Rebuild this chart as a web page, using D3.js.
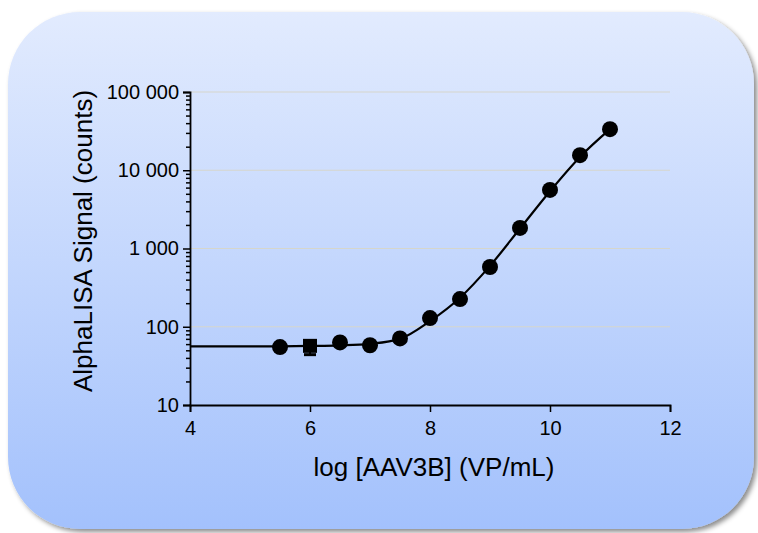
<!DOCTYPE html>
<html>
<head>
<meta charset="utf-8">
<script src="https://cdn.jsdelivr.net/npm/d3@7"></script>
<style>
  body { margin: 0; background: #fff; }
  svg { display: block; font-family: "Liberation Sans", Arial, sans-serif; }
</style>
</head>
<body>
<script>
const doseLog = [5.5, 6.5, 7, 7.5, 8, 8.5, 9, 9.5, 10, 10.5, 11];
const signal = [55, 63, 58, 71, 129, 226, 580, 1830, 5600, 15600, 33500];

// the square point with its error bar
const sqX = [6];
const sqY = [57];
const sqErr = [13];

// fitted curve
const fitX = [4, 5, 5.5, 6, 6.5, 7, 7.5, 8, 8.5, 9, 9.5, 10, 10.5, 11];
const fitY = [56, 56, 56.2, 56.8, 57.8, 60.5, 70, 118, 235, 600, 1800, 5400, 14800, 33500];

const xTicks = [4, 6, 8, 10, 12];
const yTicks = [10, 100, 1000, 10000, 100000];
const yTickLabels = ["10", "100", "1 000", "10 000", "100 000"];

const W = 758, H = 533;
const svg = d3.select("body").append("svg").attr("width", W).attr("height", H);

const defs = svg.append("defs");
const grad = defs.append("linearGradient").attr("id", "bg").attr("x1", 0).attr("y1", 0).attr("x2", 0).attr("y2", 1);
grad.append("stop").attr("offset", "0%").attr("stop-color", "#e2ebfe");
grad.append("stop").attr("offset", "100%").attr("stop-color", "#a3c1fc");

const shadow = defs.append("filter").attr("id", "shadow").attr("x", "-5%").attr("y", "-5%").attr("width", "115%").attr("height", "115%");
shadow.append("feDropShadow").attr("dx", 3).attr("dy", 3).attr("stdDeviation", 2.5)
  .attr("flood-color", "#000").attr("flood-opacity", 0.45);

// background panel
svg.append("rect")
  .attr("x", 8).attr("y", 12).attr("width", 746).attr("height", 517)
  .attr("rx", 72).attr("ry", 72)
  .attr("fill", "url(#bg)")
  .attr("filter", "url(#shadow)");

const x = d3.scaleLinear().domain([4, 12]).range([190, 670]);
const y = d3.scaleLog().domain([10, 100000]).range([405, 92]);

// gridlines
svg.append("g").selectAll("line")
  .data(yTicks.slice(1))
  .join("line")
  .attr("x1", x(4)).attr("x2", x(12))
  .attr("y1", d => y(d)).attr("y2", d => y(d))
  .attr("stroke", "#d6d6cc").attr("stroke-width", 1.2);

// y axis
const minorTicks = [];
for (let p = 1; p < 5; p++) for (let m = 2; m < 10; m++) minorTicks.push(m * Math.pow(10, p));

svg.append("g").attr("transform", `translate(${x(4)},0)`)
  .call(d3.axisLeft(y).tickValues(yTicks).tickSize(7).tickFormat((d, i) => yTickLabels[i]).tickPadding(4));
svg.append("g").attr("transform", `translate(${x(4)},0)`)
  .call(d3.axisLeft(y).tickValues(minorTicks).tickSize(4).tickFormat(""))
  .select(".domain").remove();

// x axis
svg.append("g").attr("transform", `translate(0,${y(10)})`)
  .call(d3.axisBottom(x).tickValues(xTicks).tickSize(7).tickPadding(9));

svg.selectAll(".domain").attr("stroke", "#000").attr("stroke-width", 1.8);
svg.selectAll(".tick line").attr("stroke", "#000").attr("stroke-width", 1.5);
svg.selectAll(".tick text").attr("fill", "#000").style("font-size", "20px");

// fit curve
const line = d3.line()
  .x((d, i) => x(fitX[i]))
  .y(d => y(d))
  .curve(d3.curveMonotoneX);
svg.append("path")
  .datum(fitY)
  .attr("d", line)
  .attr("fill", "none")
  .attr("stroke", "#000")
  .attr("stroke-width", 2.2);

// error bar for the square point
svg.append("g").selectAll("line")
  .data(sqX)
  .join("line")
  .attr("x1", d => x(d)).attr("x2", d => x(d))
  .attr("y1", (d, i) => y(sqY[i])).attr("y2", (d, i) => y(sqY[i] - sqErr[i]))
  .attr("stroke", "#000").attr("stroke-width", 2);
svg.append("g").selectAll("line")
  .data(sqX)
  .join("line")
  .attr("x1", d => x(d) - 6).attr("x2", d => x(d) + 6)
  .attr("y1", (d, i) => y(sqY[i] - sqErr[i])).attr("y2", (d, i) => y(sqY[i] - sqErr[i]))
  .attr("stroke", "#000").attr("stroke-width", 3);

// square marker
svg.append("g").selectAll("rect")
  .data(sqX)
  .join("rect")
  .attr("x", d => x(d) - 7)
  .attr("y", (d, i) => y(sqY[i]) - 7)
  .attr("width", 14).attr("height", 14)
  .attr("fill", "#000");

// circle markers
svg.append("g").selectAll("circle")
  .data(doseLog)
  .join("circle")
  .attr("cx", d => x(d))
  .attr("cy", (d, i) => y(signal[i]))
  .attr("r", 8)
  .attr("fill", "#000");

// axis titles
svg.append("text")
  .attr("x", 434).attr("y", 476)
  .attr("text-anchor", "middle")
  .style("font-size", "26px")
  .text("log [AAV3B] (VP/mL)");

svg.append("text")
  .attr("transform", "translate(92,241) rotate(-90)")
  .attr("text-anchor", "middle")
  .style("font-size", "26px")
  .text("AlphaLISA Signal (counts)");
</script>
</body>
</html>
